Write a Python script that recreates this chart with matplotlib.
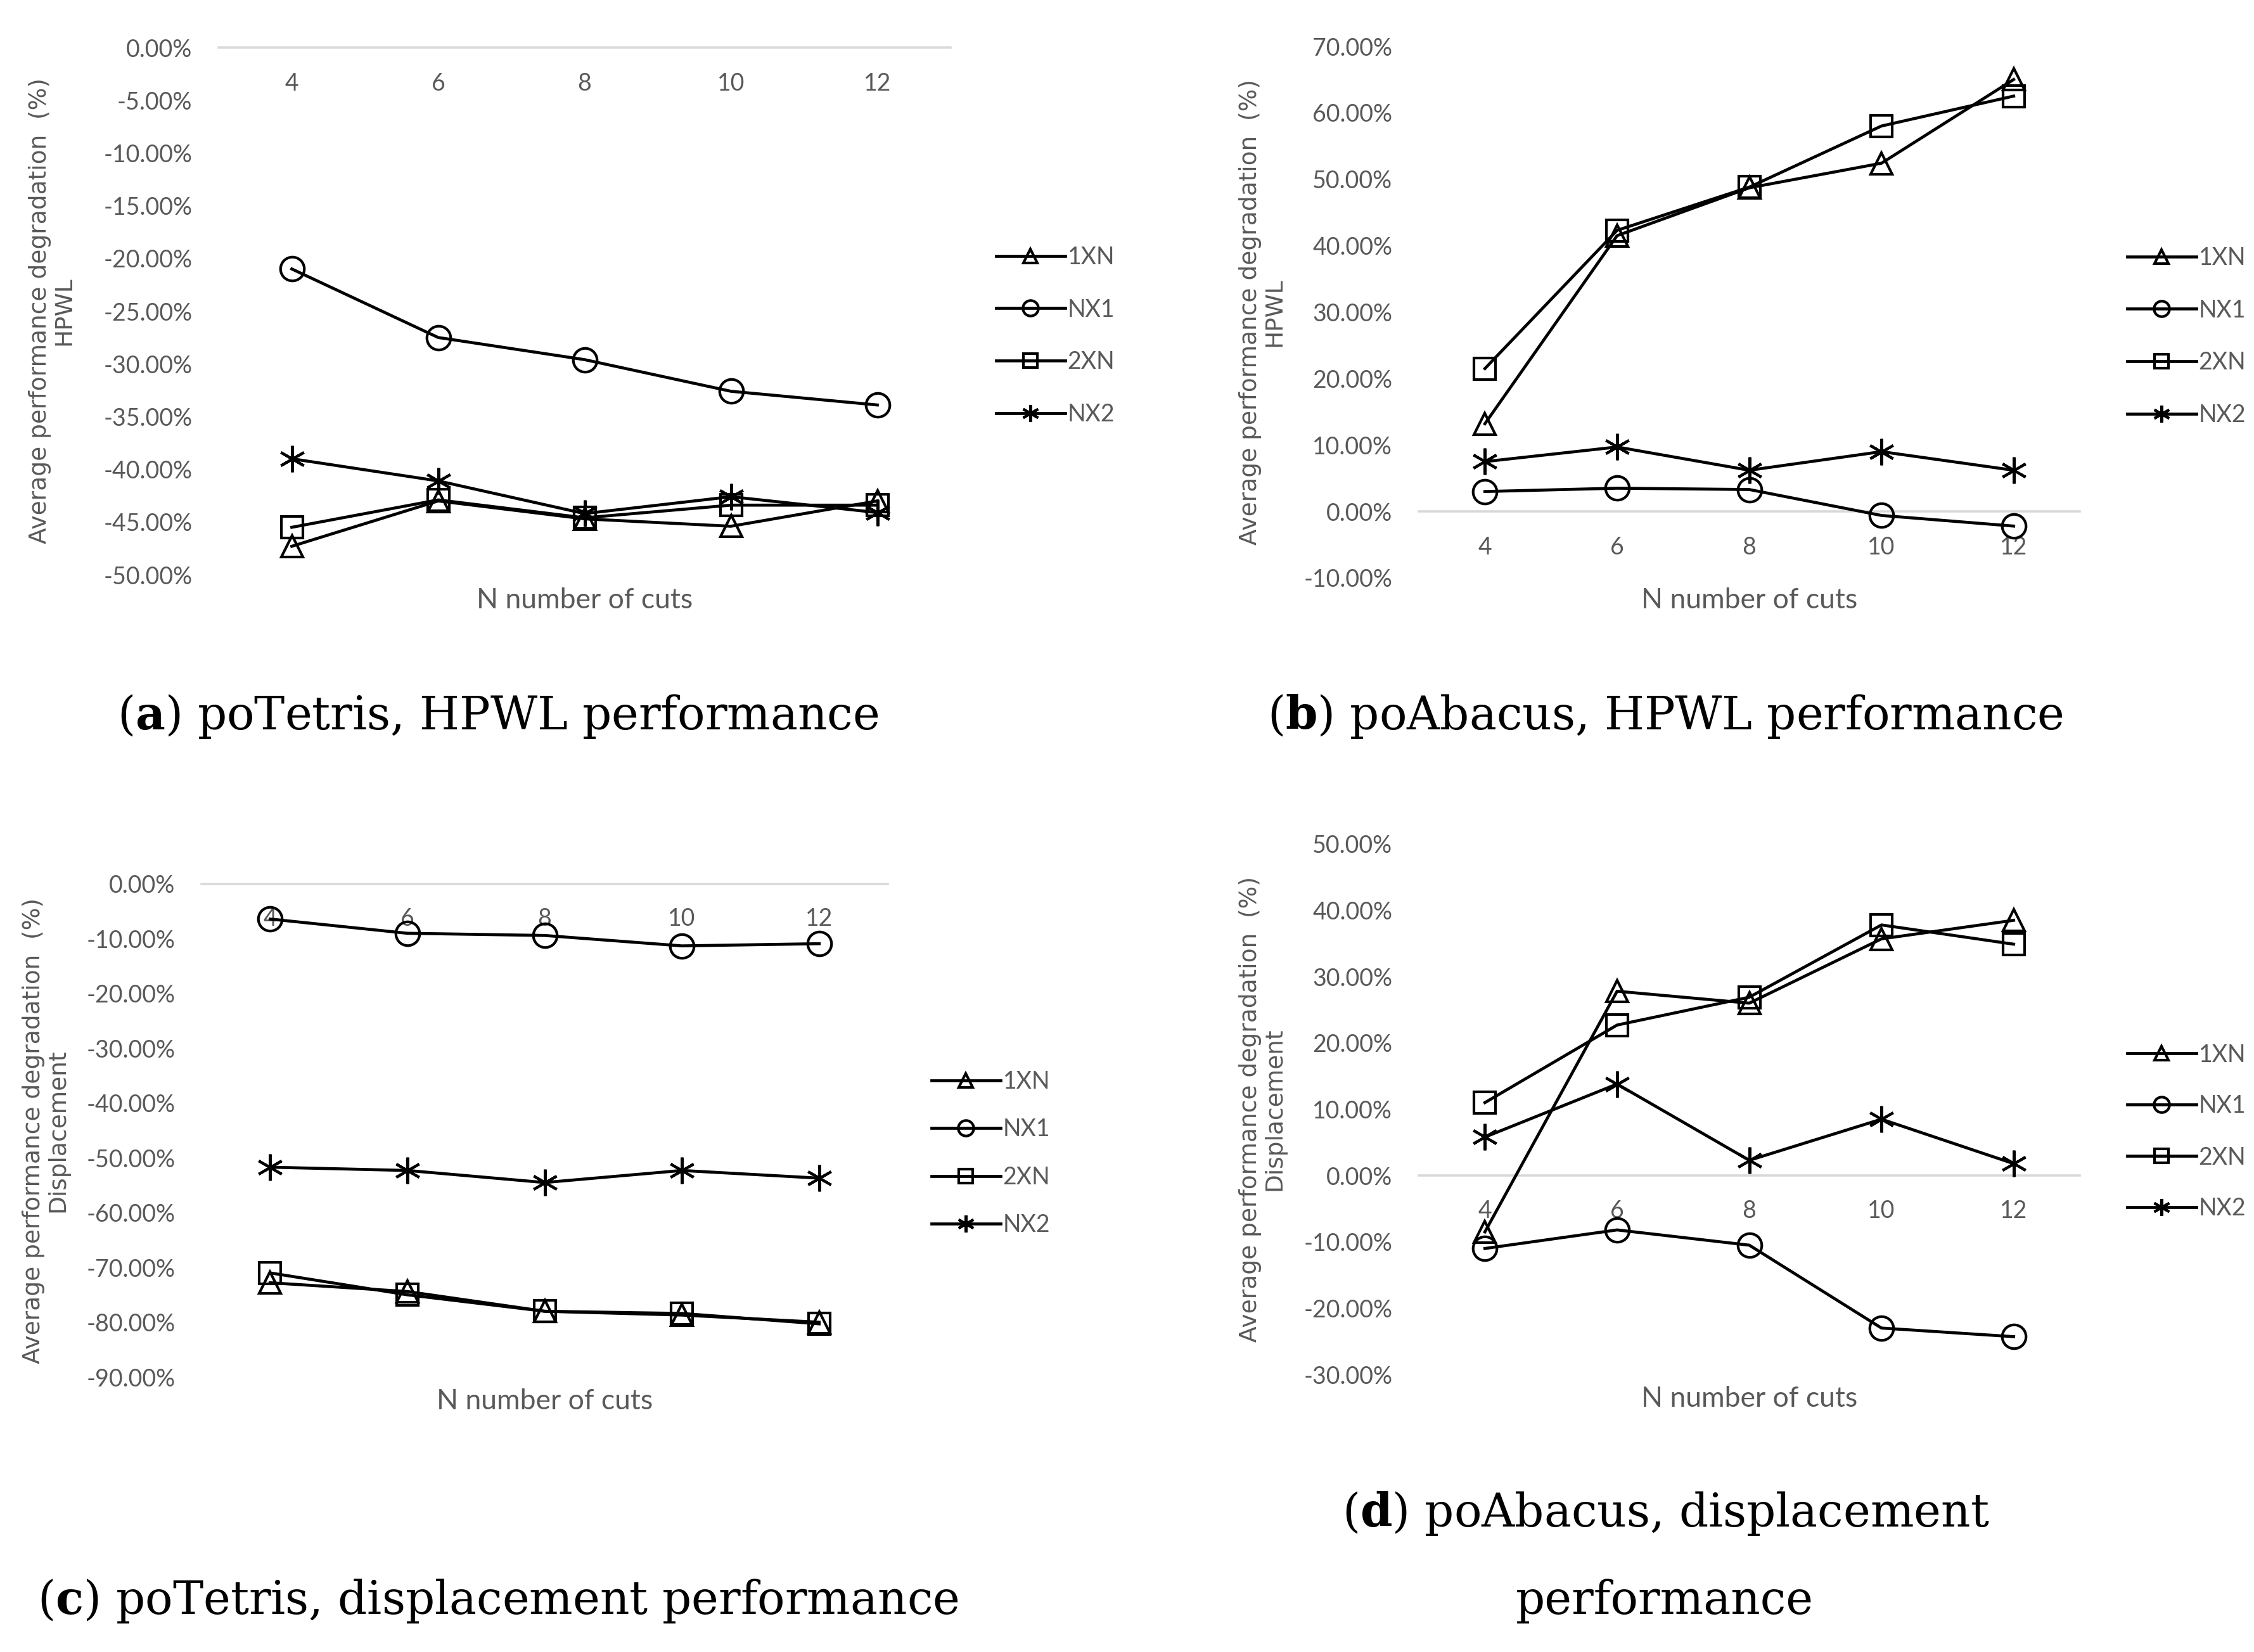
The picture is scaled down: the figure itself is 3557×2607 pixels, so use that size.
import matplotlib
matplotlib.use("Agg")
import matplotlib.pyplot as plt
from matplotlib.ticker import FixedLocator, FuncFormatter

W, H = 3557, 2607

cuts = [4, 6, 8, 10, 12]
series = ["1XN", "NX1", "2XN", "NX2"]

# (a) poTetris HPWL
tetris_hpwl_1xn = [-47.3, -43.0, -44.7, -45.4, -43.0]
tetris_hpwl_nx1 = [-21.0, -27.5, -29.6, -32.6, -33.9]
tetris_hpwl_2xn = [-45.5, -42.9, -44.6, -43.4, -43.4]
tetris_hpwl_nx2 = [-39.0, -41.1, -44.2, -42.6, -44.1]

# (b) poAbacus HPWL
abacus_hpwl_1xn = [13.2, 41.5, 48.7, 52.4, 65.0]
abacus_hpwl_nx1 = [3.0, 3.5, 3.3, -0.6, -2.2]
abacus_hpwl_2xn = [21.5, 42.3, 48.8, 58.0, 62.5]
abacus_hpwl_nx2 = [7.5, 9.7, 6.2, 9.0, 6.2]

# (c) poTetris displacement
tetris_disp_1xn = [-72.8, -74.4, -78.0, -78.7, -80.0]
tetris_disp_nx1 = [-6.4, -9.0, -9.4, -11.3, -10.9]
tetris_disp_2xn = [-71.0, -75.0, -78.0, -78.4, -80.3]
tetris_disp_nx2 = [-51.7, -52.3, -54.5, -52.3, -53.7]

# (d) poAbacus displacement
abacus_disp_1xn = [-8.5, 27.8, 26.0, 35.7, 38.5]
abacus_disp_nx1 = [-11.0, -8.2, -10.5, -23.0, -24.3]
abacus_disp_2xn = [11.0, 22.7, 26.9, 37.8, 34.9]
abacus_disp_nx2 = [5.8, 13.8, 2.3, 8.5, 1.8]

yticks_a = [0, -5, -10, -15, -20, -25, -30, -35, -40, -45, -50]
yticks_b = [70, 60, 50, 40, 30, 20, 10, 0, -10]
yticks_c = [0, -10, -20, -30, -40, -50, -60, -70, -80, -90]
yticks_d = [50, 40, 30, 20, 10, 0, -10, -20, -30]

markers = {"1XN": "^", "NX1": "o", "2XN": "s", "NX2": (6, 2, 0)}
msizes = {"1XN": 25, "NX1": 27, "2XN": 25, "NX2": 30}

GRAY = "#595959"
SANS = ["Lato", "DejaVu Sans"]
plt.rcParams["mathtext.fontset"] = "custom"
plt.rcParams["mathtext.rm"] = "DejaVu Serif"
plt.rcParams["mathtext.bf"] = "DejaVu Serif:bold"

fig = plt.figure(figsize=(W / 100, H / 100), dpi=100)


def rect(left, right, top, bottom):
    return [left / W, 1 - bottom / H, (right - left) / W, (bottom - top) / H]


def panel(box, data, yticks, ylabel2, ylab_x, xlab_y, leg_x, leg_y, leg_space, tickpad):
    ax = fig.add_axes(rect(*box))
    for name, vals in zip(series, data):
        ax.plot(cuts, vals, color="black", lw=3.4, marker=markers[name],
                ms=msizes[name], mfc="none", mec="black", mew=3.0, label=name,
                clip_on=False)
    ax.set_xlim(3, 13)
    ax.set_ylim(min(yticks), max(yticks))
    for s in ["top", "right", "left"]:
        ax.spines[s].set_visible(False)
    ax.spines["bottom"].set_position(("data", 0))
    ax.spines["bottom"].set_color("#d9d9d9")
    ax.spines["bottom"].set_linewidth(2.6)
    ax.spines["bottom"].set_zorder(0)
    ax.xaxis.set_major_locator(FixedLocator(cuts))
    ax.yaxis.set_major_locator(FixedLocator(yticks))
    ax.yaxis.set_major_formatter(FuncFormatter(lambda v, p: f"{v:.2f}%"))
    ax.tick_params(axis="x", length=0, pad=tickpad, labelsize=27, labelcolor=GRAY)
    ax.tick_params(axis="y", length=0, pad=30, labelsize=27, labelcolor=GRAY)
    for lab in ax.get_xticklabels() + ax.get_yticklabels():
        lab.set_family(SANS)
    ax.patch.set_visible(False)

    b = ax.get_position()
    cy = 1 - (box[2] + box[3]) / 2 / H
    fig.text(ylab_x / W, cy, "Average performance degradation  (%)\n" + ylabel2,
             rotation=90, ha="center", va="center", multialignment="center",
             fontsize=27, color=GRAY, family="DejaVu Sans", linespacing=1.1)
    fig.text((b.x0 + b.x1) / 2, 1 - xlab_y / H, "N number of cuts", ha="center",
             va="center", fontsize=32, color=GRAY, family=SANS)
    ax.legend(loc="center left", bbox_to_anchor=(leg_x / W, 1 - leg_y / H),
              bbox_transform=fig.transFigure, frameon=False,
              labelcolor=GRAY, handlelength=2.9, handletextpad=0.1,
              labelspacing=leg_space, markerscale=0.65, borderpad=0,
              borderaxespad=0, prop={"family": SANS, "size": 27})
    return ax


panel((345, 1500, 75, 907),
      [tetris_hpwl_1xn, tetris_hpwl_nx1, tetris_hpwl_2xn, tetris_hpwl_nx2],
      yticks_a, "HPWL", 82, 948, 1572, 530, 1.25, 28)
panel((2239, 3282, 73, 912),
      [abacus_hpwl_1xn, abacus_hpwl_nx1, abacus_hpwl_2xn, abacus_hpwl_nx2],
      yticks_b, "HPWL", 1992, 948, 3357, 531, 1.25, 28)
panel((318, 1401, 1395, 2173),
      [tetris_disp_1xn, tetris_disp_nx1, tetris_disp_2xn, tetris_disp_nx2],
      yticks_c, "Displacement", 72, 2212, 1470, 1820, 1.05, 27)
panel((2239, 3282, 1332, 2169),
      [abacus_disp_1xn, abacus_disp_nx1, abacus_disp_2xn, abacus_disp_nx2],
      yticks_d, "Displacement", 1992, 2207, 3357, 1786, 1.2, 27)

cap = dict(ha="center", va="center", fontsize=52, family="DejaVu Serif", color="black")
fig.text(786 / W, 1 - 1130 / H, r"($\mathbf{a}$) poTetris, HPWL performance", **cap)
fig.text(2628 / W, 1 - 1130 / H, r"($\mathbf{b}$) poAbacus, HPWL performance", **cap)
fig.text(786 / W, 1 - 2527 / H, r"($\mathbf{c}$) poTetris, displacement performance", **cap)
fig.text(2629 / W, 1 - 2388 / H, r"($\mathbf{d}$) poAbacus, displacement", **cap)
fig.text(2627 / W, 1 - 2527 / H, "performance", **cap)

fig.savefig("out.png", dpi=100, facecolor="white")
